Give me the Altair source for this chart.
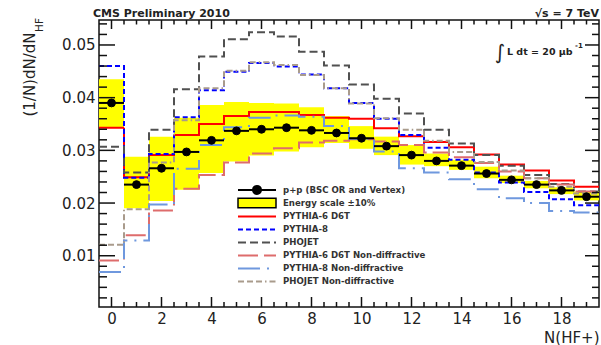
import altair as alt
import pandas as pd

FONT = "DejaVu Sans"
W, H = 500, 287

# ---------------- data ----------------
bin_index = list(range(20))

data_label = "p+p (BSC OR and Vertex)"
data_values = [0.0390, 0.0235, 0.0266, 0.0297, 0.0319, 0.0337, 0.0340, 0.0343, 0.0338, 0.0333,
               0.0323, 0.0308, 0.0291, 0.0280, 0.0271, 0.0256, 0.0244, 0.0235, 0.0224, 0.0212]

band_label = "Energy scale \u00b110%"
band_low = [0.0343, 0.0190, 0.0204, 0.0225, 0.0257, 0.0279, 0.0290, 0.0298, 0.0306, 0.0314,
            0.0303, 0.0291, 0.0273, 0.0270, 0.0263, 0.0247, 0.0238, 0.0228, 0.0217, 0.0205]
band_high = [0.0435, 0.0288, 0.0326, 0.0362, 0.0386, 0.0392, 0.0390, 0.0389, 0.0382, 0.0365,
             0.0346, 0.0326, 0.0310, 0.0294, 0.0282, 0.0269, 0.0252, 0.0242, 0.0230, 0.0222]

pythia6_d6t = [0.0343, 0.0249, 0.0291, 0.0329, 0.0350, 0.0365, 0.0373, 0.0373, 0.0367, 0.0362,
               0.0360, 0.0342, 0.0327, 0.0316, 0.0306, 0.0292, 0.0273, 0.0262, 0.0243, 0.0231]
pythia8 = [0.0460, 0.0248, 0.0293, 0.0363, 0.0414, 0.0449, 0.0466, 0.0459, 0.0444, 0.0418,
           0.0390, 0.0360, 0.0329, 0.0305, 0.0282, 0.0258, 0.0239, 0.0221, 0.0207, 0.0196]
phojet = [0.0307, 0.0258, 0.0339, 0.0416, 0.0478, 0.0511, 0.0524, 0.0516, 0.0487, 0.0461,
          0.0425, 0.0398, 0.0370, 0.0339, 0.0313, 0.0291, 0.0271, 0.0253, 0.0236, 0.0222]
pythia6_d6t_nd = [0.0091, 0.0139, 0.0186, 0.0227, 0.0253, 0.0277, 0.0294, 0.0304, 0.0315, 0.0318,
                  0.0321, 0.0317, 0.0310, 0.0296, 0.0287, 0.0276, 0.0260, 0.0247, 0.0235, 0.0222]
pythia8_nd = [0.0069, 0.0129, 0.0197, 0.0265, 0.0310, 0.0344, 0.0362, 0.0366, 0.0364, 0.0346,
              0.0322, 0.0298, 0.0266, 0.0258, 0.0245, 0.0226, 0.0209, 0.0200, 0.0185, 0.0182]
phojet_nd = [0.0121, 0.0188, 0.0277, 0.0357, 0.0418, 0.0451, 0.0467, 0.0462, 0.0443, 0.0418,
             0.0389, 0.0361, 0.0339, 0.0318, 0.0297, 0.0278, 0.0262, 0.0247, 0.0231, 0.0218]

model_names = ["PYTHIA-6 D6T", "PYTHIA-8", "PHOJET",
               "PYTHIA-6 D6T Non-diffractive", "PYTHIA-8 Non-diffractive", "PHOJET Non-diffractive"]
model_series = [pythia6_d6t, pythia8, phojet, pythia6_d6t_nd, pythia8_nd, phojet_nd]
model_colors = ["#ff0000", "#0000ff", "#505050", "#de6c6c", "#6f98de", "#a99b8c"]
model_dashes = [[1, 0], [5, 3], [8, 4], [20, 6], [22, 7, 2, 7], [6, 3, 6, 3, 6, 3, 1.5, 3]]

x_major = list(range(0, 20, 2))
x_minor = [k / 2 for k in range(1, 39) if k % 4 != 0]
y_major = [0.01, 0.02, 0.03, 0.04, 0.05]
y_minor = [round(k * 0.002, 3) for k in range(1, 28) if k % 5 != 0]

# ---------------- tables ----------------
band_df = pd.DataFrame({
    "lo": [b - 0.5 for b in bin_index], "hi": [b + 0.5 for b in bin_index],
    "low": band_low, "high": band_high, "lab": band_label})
data_df = pd.DataFrame({
    "bin": bin_index, "lo": [b - 0.5 for b in bin_index], "hi": [b + 0.5 for b in bin_index],
    "value": data_values, "lab": data_label})
rows = []
for name, vals in zip(model_names, model_series):
    for b, v in zip(bin_index, vals):
        rows.append({"model": name, "x": b - 0.5, "y": v, "seq": 2 * b})
        rows.append({"model": name, "x": b + 0.5, "y": v, "seq": 2 * b + 1})
lines_df = pd.DataFrame(rows)

# ---------------- scales / axes ----------------
xscale = alt.Scale(domain=[-0.5, 19.5], nice=False, zero=False)
yscale = alt.Scale(domain=[0.00027, 0.05474], nice=False, zero=False)
xaxis = alt.Axis(values=x_major, title="N(HF+)", grid=False, ticks=False, tickSize=0, domain=False,
                 labelFont=FONT, labelFontSize=15, labelColor="#222", labelPadding=4, labelFlush=False,
                 titleFont=FONT, titleFontSize=15, titleFontWeight="normal", titleColor="#222",
                 titleX=W, titleY=35, titleAlign="right", titleBaseline="alphabetic")
yaxis = alt.Axis(values=y_major, format=".2f", title="(1/N)dN/dN", grid=False, ticks=False, tickSize=0,
                 domain=False, labelFont=FONT, labelFontSize=15, labelColor="#222", labelPadding=4,
                 labelFlush=False,
                 titleFont=FONT, titleFontSize=15, titleFontWeight="normal", titleColor="#222",
                 titleAngle=270, titleX=-70, titleY=12, titleAlign="right", titleBaseline="middle")


def X(f):
    return alt.X(f, type="quantitative", scale=xscale, axis=xaxis)


def Y(f):
    return alt.Y(f, type="quantitative", scale=yscale, axis=yaxis)


def legend(y, symbol, stroke_w, **kw):
    return alt.Legend(title=None, orient="none", legendX=138, legendY=y, symbolType=symbol,
                      symbolSize=1444, symbolStrokeWidth=stroke_w, clipHeight=12.8, rowPadding=0,
                      padding=0, labelFont=FONT, labelFontSize=8.6, labelFontWeight="bold",
                      labelColor="#333", labelOffset=6, labelLimit=400, **kw)


LINE_PATH = "M-1,0H1"
BOX_PATH = "M-1,-0.25H1V0.25H-1Z"
DOT_PATH = "M-1,0H1M0.21,0A0.21,0.21,0,1,1,-0.21,0A0.21,0.21,0,1,1,0.21,0Z"

band = alt.Chart(band_df).mark_rect().encode(
    x=X("lo"), x2="hi", y=Y("low"), y2="high",
    fill=alt.Fill("lab:N", scale=alt.Scale(domain=[band_label], range=["#ffff00"]),
                  legend=legend(176.5, BOX_PATH, 1.5, symbolStrokeColor="#000")))

line_legend = legend(190, LINE_PATH, 2)
lines = alt.Chart(lines_df).mark_line(strokeWidth=2).encode(
    x=X("x"), y=Y("y"),
    color=alt.Color("model:N", scale=alt.Scale(domain=model_names, range=model_colors), legend=line_legend),
    strokeDash=alt.StrokeDash("model:N", scale=alt.Scale(domain=model_names, range=model_dashes),
                              legend=line_legend),
    order="seq:Q")

errbars = alt.Chart(data_df).mark_rule(color="black", strokeWidth=2).encode(
    x=X("lo"), x2="hi", y=Y("value"))

points = alt.Chart(data_df).mark_point(filled=True, shape="circle", size=62, fill="black",
                                        strokeWidth=1, opacity=1).encode(
    x=X("bin"), y=Y("value"),
    stroke=alt.Stroke("lab:N", scale=alt.Scale(domain=[data_label], range=["black"]),
                      legend=legend(163.5, DOT_PATH, 2, symbolFillColor="black")))


def ticks(vals, side, length):
    base = alt.Chart(pd.DataFrame({"v": vals})).mark_rule(color="#111", strokeWidth=1.5)
    if side == "bottom":
        return base.encode(x=X("v"), y=alt.value(H), y2=alt.value(H - length))
    if side == "top":
        return base.encode(x=X("v"), y=alt.value(0), y2=alt.value(length))
    if side == "left":
        return base.encode(y=Y("v"), x=alt.value(0), x2=alt.value(length))
    return base.encode(y=Y("v"), x=alt.value(W), x2=alt.value(W - length))


tick_layers = [
    ticks(x_major, "bottom", 10), ticks(x_minor, "bottom", 5),
    ticks(x_major, "top", 9), ticks(x_minor, "top", 4.5),
    ticks(y_major, "left", 16), ticks(y_minor, "left", 8),
    ticks(y_major, "right", 14), ticks(y_minor, "right", 7),
]


def note(txt, x, y, size, weight="bold", align="left", baseline="alphabetic", angle=0):
    return alt.Chart(pd.DataFrame({"t": [txt]})).mark_text(
        font=FONT, fontSize=size, fontWeight=weight, align=align, baseline=baseline,
        angle=angle, color="#222").encode(text="t:N", x=alt.value(x), y=alt.value(y))


notes = [
    note("CMS Preliminary 2010", -6, -3, 11),
    note("\u221as = 7 TeV", W, -3, 11, align="right"),
    note("\u222b", 401, 33, 20, weight="normal", align="center", baseline="middle"),
    note("L dt = 20 \u03bcb", 408, 35, 9.5),
    note("-1", 476, 28, 7),
    note("HF", -59, 12, 10.5, weight="normal", baseline="middle", angle=270),
]

chart = alt.layer(band, lines, errbars, points, *tick_layers, *notes).properties(
    width=W, height=H,
    autosize=alt.AutoSizeParams(type="none"),
    padding={"left": 99, "top": 20, "right": 2, "bottom": 38},
    background="white",
).configure_view(stroke="#111", strokeWidth=1.5)

chart.save("out.html", embed_options={"renderer": "svg", "actions": False})
